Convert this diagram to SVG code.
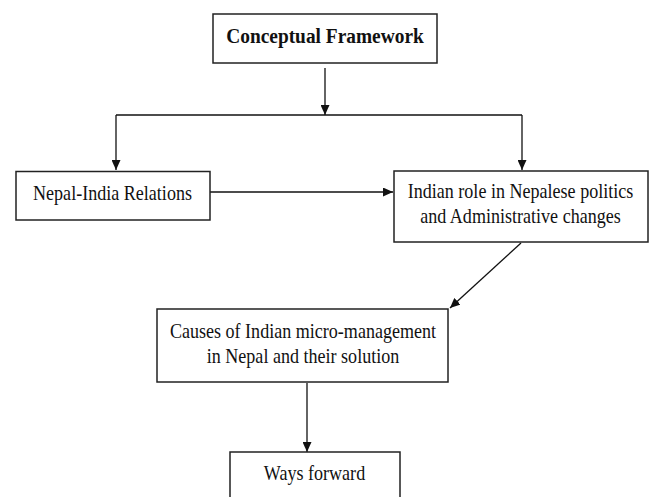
<svg xmlns="http://www.w3.org/2000/svg" width="652" height="497" viewBox="0 0 652 497">
<style>
.box{fill:#fff;stroke:#222;stroke-width:1.5}
.t{font-family:"Liberation Serif","Times New Roman",serif;font-size:21px;fill:#111;text-anchor:middle}
.b{font-weight:bold;font-size:20px}
.c{fill:none;stroke:#111;stroke-width:1.3}
</style>
<defs>
<marker id="ah" viewBox="0 0 10 9" refX="10" refY="4.5" markerWidth="10" markerHeight="9" markerUnits="userSpaceOnUse" orient="auto">
<path d="M0,0 L10,4.5 L0,9 z" fill="#111"/>
</marker>
</defs>
<rect width="652" height="497" fill="#fff"/>
<g id="connectors">
<line class="c" x1="325" y1="68" x2="325" y2="115" marker-end="url(#ah)"/>
<line class="c" x1="116" y1="115" x2="522" y2="115"/>
<line class="c" x1="116" y1="115" x2="116" y2="170" marker-end="url(#ah)"/>
<line class="c" x1="522" y1="115" x2="522" y2="170" marker-end="url(#ah)"/>
<line class="c" x1="210" y1="192" x2="393" y2="192" marker-end="url(#ah)"/>
<line class="c" x1="521" y1="243" x2="450" y2="308" marker-end="url(#ah)"/>
<line class="c" x1="307" y1="383" x2="307" y2="452" marker-end="url(#ah)"/>
</g>
<g id="n1">
<rect class="box" x="213" y="14" width="224" height="49"/>
<text class="t b" transform="translate(325,43) scale(0.97,1)">Conceptual Framework</text>
</g>
<g id="n2">
<rect class="box" x="16" y="171.5" width="194" height="48.5"/>
<text class="t" transform="translate(112.5,200) scale(0.86,1)">Nepal-India Relations</text>
</g>
<g id="n3">
<rect class="box" x="394" y="171" width="254" height="71"/>
<text class="t" transform="translate(520.5,198) scale(0.86,1)">Indian role in Nepalese politics</text>
<text class="t" transform="translate(520.5,223) scale(0.86,1)">and Administrative changes</text>
</g>
<g id="n4">
<rect class="box" x="157" y="309" width="291" height="73"/>
<text class="t" transform="translate(303,338) scale(0.86,1)">Causes of Indian micro-management</text>
<text class="t" transform="translate(303,363) scale(0.86,1)">in Nepal and their solution</text>
</g>
<g id="n5">
<rect class="box" x="230" y="452" width="170" height="60"/>
<text class="t" transform="translate(314.5,480) scale(0.86,1)">Ways forward</text>
</g>
</svg>
